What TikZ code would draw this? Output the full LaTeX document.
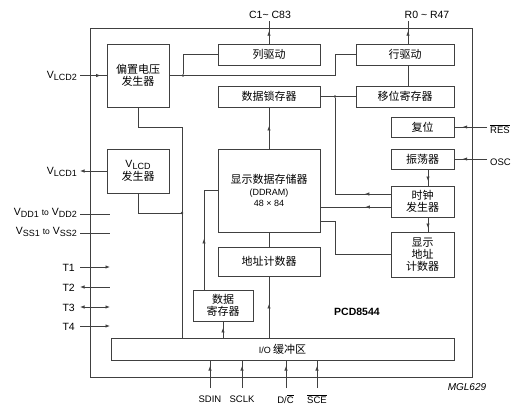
\documentclass[tikz,border=0pt]{standalone}
\usepackage{fontspec}
\setmainfont{Liberation Sans}
\newfontfamily\cjk{Noto Sans CJK SC}
\usetikzlibrary{arrows.meta,decorations.markings}
\newcommand{\pinsub}[1]{\raisebox{-2.5pt}{\fontsize{9}{9}\selectfont #1}}
\begin{document}
\begin{tikzpicture}[x=1pt,y=-1pt,
  ln/.style={draw=black!75, line width=0.75pt},
  box/.style={draw=black!75, line width=1pt, inner sep=0pt, align=center,
    font=\cjk\fontsize{11}{12.5}\selectfont},
  midarrow/.style={postaction={decorate}, decoration={markings,
    mark=at position #1 with {\arrow{Latex[length=4.5pt,width=3.4pt]}}}},
  tipend/.style={-{Latex[length=4.5pt,width=3.4pt]}},
  tipstart/.style={{Latex[length=4.5pt,width=3.4pt]}-},
  tipboth/.style={{Latex[length=4.5pt,width=3.4pt]}-{Latex[length=4.5pt,width=3.4pt]}},
  jdot/.style={circle, fill=black!75, inner sep=0pt, minimum size=2.8pt},
  lbl/.style={font=\fontsize{10.5}{12}\selectfont, inner sep=0pt},
  sml/.style={font=\fontsize{9.5}{11}\selectfont, inner sep=0pt}]
\useasboundingbox (0,0) rectangle (531,413);
% chip outline
\node[draw=black!75, line width=1pt, minimum width=382pt, minimum height=349pt, inner sep=0pt] (chip) at (281,202.5) {};
% blocks
\node[box, minimum width=62pt, minimum height=63pt] (bias) at (138,75.5) {偏置电压\\发生器};
\node[box, minimum width=62pt, minimum height=44pt] (vlcd) at (138,171) {{\fontsize{10.5}{11}\selectfont\rmfamily V\pinsub{LCD}}\\[1pt]发生器};
\node[box, minimum width=102pt, minimum height=21pt] (col) at (269,54.5) {列驱动};
\node[box, minimum width=102pt, minimum height=21pt] (latch) at (269,96.5) {数据锁存器};
\node[box, minimum width=98pt, minimum height=21pt] (row) at (405,54.5) {行驱动};
\node[box, minimum width=98pt, minimum height=21pt] (shift) at (405,96.5) {移位寄存器};
\node[box, minimum width=63pt, minimum height=20pt] (reset) at (422.5,127) {复位};
\node[box, minimum width=63pt, minimum height=20pt] (osc) at (422.5,159) {振荡器};
\node[box, minimum width=63pt, minimum height=31pt] (clock) at (422.5,201.5) {时钟\\发生器};
\node[box, minimum width=63pt, minimum height=45pt, font=\cjk\fontsize{11}{12}\selectfont] (daddr) at (422.5,254.5) {显示\\地址\\计数器};
\node[box, minimum width=102pt, minimum height=83pt] (ddram) at (269,190.5) {显示数据存储器\\[-1pt]{\fontsize{9}{10.5}\selectfont\rmfamily (DDRAM)}\\[-1pt]{\fontsize{9}{10.5}\selectfont\rmfamily 48 × 84}};
\node[box, minimum width=102pt, minimum height=29pt] (addr) at (269,261.5) {地址计数器};
\node[box, minimum width=60pt, minimum height=31pt] (dreg) at (223,305.5) {数据\\寄存器};
\node[box, minimum width=343pt, minimum height=22pt] (io) at (282.5,349) {{\fontsize{9}{10}\selectfont\rmfamily I/O} 缓冲区};
% labels
\node[lbl] (lC) at (270,15) {C1\textasciitilde{} C83};
\node[lbl] (lR) at (427,15) {R0 \textasciitilde{} R47};
\node[lbl, anchor=east] (lVLCD2) at (77,76) {V\pinsub{LCD2}};
\node[lbl, anchor=east] (lVLCD1) at (77,172) {V\pinsub{LCD1}};
\node[lbl, anchor=east] (lVDD) at (77,213) {V\pinsub{DD1} {\fontsize{8.5}{9}\selectfont to} V\pinsub{DD2}};
\node[lbl, anchor=east] (lVSS) at (77,232) {V\pinsub{SS1} {\fontsize{8.5}{9}\selectfont to} V\pinsub{SS2}};
\node[lbl, anchor=east] (lT1) at (75,268) {T1};
\node[lbl, anchor=east] (lT2) at (75,288) {T2};
\node[lbl, anchor=east] (lT3) at (75,308) {T3};
\node[lbl, anchor=east] (lT4) at (75,327) {T4};
\node[sml, anchor=west] (lRES) at (490,129) {$\overline{\hbox{RES}}$};
\node[sml, anchor=west] (lOSC) at (490,162) {OSC};
\node[sml] (lSDIN) at (210,399) {SDIN};
\node[sml] (lSCLK) at (242,399) {SCLK};
\node[sml] (lDC) at (285.5,399) {D/$\overline{\hbox{C}}$};
\node[sml] (lSCE) at (317,399) {$\overline{\hbox{SCE}}$};
\node[lbl, font=\bfseries\fontsize{10.5}{12}\selectfont] (lPCD) at (357,312) {PCD8544};
\node[lbl, font=\itshape\fontsize{10}{12}\selectfont] (lMGL) at (467,387) {MGL629};
% helper coordinates
\coordinate (busx) at (335,0);
\coordinate (vbus) at (182,0);
\coordinate (cTop) at (col.north |- 0,21);
\coordinate (rTop) at (408,21);
\coordinate (pVLCD2) at (80,75.5);
\coordinate (pVLCD1) at (80,171);
\coordinate (pVDDa) at (80,214);   \coordinate (pVDDb) at (110,214);
\coordinate (pVSSa) at (80,233);   \coordinate (pVSSb) at (110,233);
\coordinate (pT1a) at (80,267);    \coordinate (pT1b) at (110,267);
\coordinate (pT2a) at (80,287);    \coordinate (pT2b) at (110,287);
\coordinate (pT3a) at (80,307);    \coordinate (pT3b) at (110,307);
\coordinate (pT4a) at (80,326);    \coordinate (pT4b) at (110,326);
\coordinate (pRES) at (487,127);
\coordinate (pOSC) at (487,159);
\coordinate (pSDIN) at (210,388);
\coordinate (pSCLK) at (242,388);
\coordinate (pDC) at (286,388);
\coordinate (pSCE) at (317,388);
% top outputs
\draw[ln, midarrow=0.55] (col.north) -- (cTop);
\draw[ln, midarrow=0.55] (row.north -| rTop) -- (rTop);
% bias generator
\draw[ln, midarrow=0.78] (pVLCD2) -- (bias.west);
\draw[ln] (bias.east) -- (bias.east -| busx) |- (row.west);
\node[jdot] (j1) at (183,75.5) {};
\draw[ln] (j1) |- (col.west);
\draw[ln] (bias.south) -- (bias.south |- 0,127) -| (io.north -| vbus);
\draw[ln] (vlcd.south) |- (vbus |- 0,213) node[jdot] (j2) {};
\draw[ln, tipend] (vlcd.west) -- (pVLCD1);
% supply and test pins
\draw[ln] (pVDDa) -- (pVDDb);
\draw[ln] (pVSSa) -- (pVSSb);
\draw[ln, tipend] (pT1a) -- (pT1b);
\draw[ln, tipstart] (pT2a) -- (pT2b);
\draw[ln, tipboth] (pT3a) -- (pT3b);
\draw[ln, tipend] (pT4a) -- (pT4b);
% data path
\draw[ln, midarrow=0.55] (ddram.north) -- (latch.south);
\draw[ln] (addr.north) -- (ddram.south);
\draw[ln, midarrow=0.55] (io.north -| addr.south) -- (addr.south);
\draw[ln, midarrow=0.6] (io.north -| dreg.south) -- (dreg.south);
\draw[ln, midarrow=0.45] ([xshift=-19pt]dreg.north) |- (ddram.west);
% row side
\draw[ln] (row.south -| rTop) -- (shift.north -| rTop);
\draw[ln] (latch.east) -- (shift.west);
\node[jdot] (j3) at (latch.east -| busx) {};
\coordinate (ck1) at ([yshift=7.5pt]clock.west);
\coordinate (ck2) at ([yshift=-5.5pt]clock.west);
\draw[ln, midarrow=0.17] (ck1) -| (j3);
\draw[ln, midarrow=0.36] (ck2) -- (ck2 -| ddram.east);
\coordinate (dd1) at ([yshift=-30.5pt]ddram.east);
\draw[ln] (dd1) -- (dd1 -| busx) |- (daddr.west);
\draw[ln, midarrow=0.72] ([xshift=5.5pt]osc.south) -- ([xshift=5.5pt]clock.north);
\draw[ln, midarrow=0.75] ([xshift=5.5pt]clock.south) -- ([xshift=5.5pt]daddr.north);
\draw[ln, midarrow=0.75] (pRES) -- (reset.east);
\draw[ln, midarrow=0.75] (pOSC) -- (osc.east);
% bottom pins
\draw[ln, midarrow=0.8] (pSDIN) -- (pSDIN |- io.south);
\draw[ln, midarrow=0.8] (pSCLK) -- (pSCLK |- io.south);
\draw[ln, midarrow=0.8] (pDC) -- (pDC |- io.south);
\draw[ln, midarrow=0.8] (pSCE) -- (pSCE |- io.south);
\end{tikzpicture}
\end{document}
